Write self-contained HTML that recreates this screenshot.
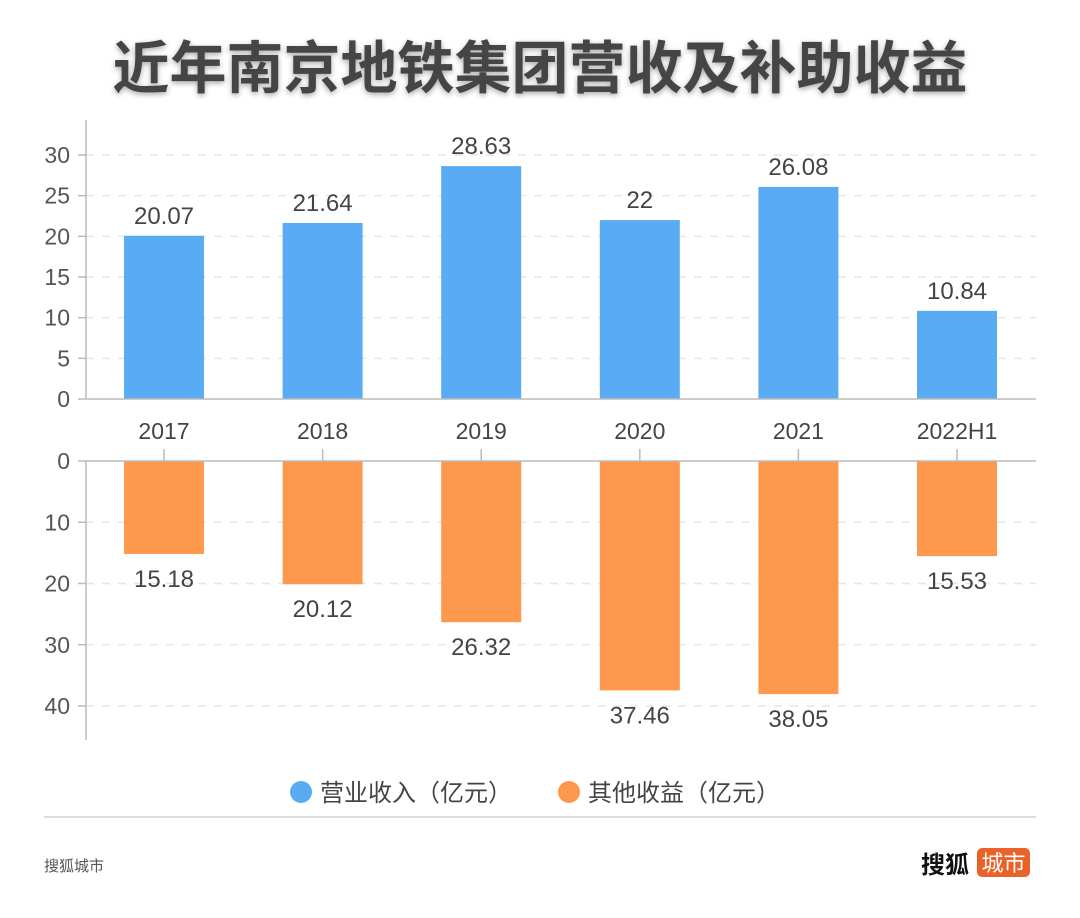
<!DOCTYPE html>
<html><head><meta charset="utf-8"><style>
body{margin:0;background:#fff;}
svg{display:block;font-family:"Liberation Sans","Noto Sans CJK SC",sans-serif;}
</style></head><body>
<svg id="chart" width="1080" height="918" viewBox="0 0 1080 918">
<defs><filter id="sh" x="-5%" y="-20%" width="110%" height="140%"><feGaussianBlur in="SourceAlpha" stdDeviation="3"/><feOffset dx="0" dy="2"/><feComponentTransfer><feFuncA type="linear" slope="0.35"/></feComponentTransfer><feMerge><feMergeNode/><feMergeNode in="SourceGraphic"/></feMerge></filter></defs>
<text x="540" y="88" text-anchor="middle" font-size="57" font-weight="bold" fill="#444" filter="url(#sh)">近年南京地铁集团营收及补助收益</text>
<g id="plot"></g>
<g>
<g><circle cx="301" cy="792" r="11" fill="#59acf3"/><text x="320" y="801" font-size="24" fill="#444">营业收入（亿元）</text></g>
<g><circle cx="569" cy="792" r="11" fill="#fd984c"/><text x="588" y="801" font-size="24" fill="#444">其他收益（亿元）</text></g>
</g>
<line x1="44" y1="817" x2="1036" y2="817" stroke="#ddd" stroke-width="2"/>
<text x="44" y="871" font-size="15" fill="#555">搜狐城市</text>
<g><text x="921" y="873" font-size="24" font-weight="bold" fill="#111">搜狐</text>
<rect x="977" y="848" width="53" height="29" rx="5" fill="#e9622a"/><text x="1003.5" y="871" text-anchor="middle" font-size="22" fill="#fff">城市</text></g>
</svg>
<script>
const categories=["2017","2018","2019","2020","2021","2022H1"];
const revenue=[20.07,21.64,28.63,22,26.08,10.84];
const otherIncome=[15.18,20.12,26.32,37.46,38.05,15.53];
const topTicks=[0,5,10,15,20,25,30];
const bottomTicks=[0,10,20,30,40];
const NS="http://www.w3.org/2000/svg";
const g=document.getElementById('plot');
function el(t,a,txt){const e=document.createElementNS(NS,t);for(const k in a)e.setAttribute(k,a[k]);if(txt!==undefined)e.textContent=txt;g.appendChild(e);return e;}
const x0=86,x1=1036,bw=80;
const xc=i=>164+i*158.6;
const yTop=v=>399-v*(244/30);
const yBot=v=>461+v*(245/40);
topTicks.forEach(t=>{
 if(t>0){const l=el('line',{x1:x0,y1:yTop(t),x2:x1,y2:yTop(t),stroke:'#e6e6e6','stroke-dasharray':'8 8','stroke-width':1.5});
 }
 const k=el('line',{x1:78,y1:yTop(t),x2:x0,y2:yTop(t),stroke:'#bbb','stroke-width':1.5});
 
 const tx=el('text',{x:70,y:yTop(t)+8,'text-anchor':'end','font-size':23,fill:'#555'},t);
 
});
bottomTicks.forEach(t=>{
 if(t>0){const l=el('line',{x1:x0,y1:yBot(t),x2:x1,y2:yBot(t),stroke:'#e6e6e6','stroke-dasharray':'8 8','stroke-width':1.5});
 }
 const k=el('line',{x1:78,y1:yBot(t),x2:x0,y2:yBot(t),stroke:'#bbb','stroke-width':1.5});
 
 const tx=el('text',{x:70,y:yBot(t)+8,'text-anchor':'end','font-size':23,fill:'#555'},t);
 
});
let a=el('line',{x1:x0,y1:120,x2:x0,y2:399,stroke:'#bbb','stroke-width':1.5});

a=el('line',{x1:x0,y1:461,x2:x0,y2:740,stroke:'#bbb','stroke-width':1.5});

categories.forEach((c,i)=>{
 const cx=xc(i);
 const b=el('rect',{x:cx-bw/2,y:yTop(revenue[i]),width:bw,height:yTop(0)-yTop(revenue[i]),fill:'#59acf3'});
 
 const v=el('text',{x:cx,y:yTop(revenue[i])-12,'text-anchor':'middle','font-size':24,fill:'#444'},revenue[i]);
 
 const o=el('rect',{x:cx-bw/2,y:yBot(0),width:bw,height:yBot(otherIncome[i])-yBot(0),fill:'#fd984c'});
 
 const ov=el('text',{x:cx,y:yBot(otherIncome[i])+33,'text-anchor':'middle','font-size':24,fill:'#444'},otherIncome[i]);
 
 const xl=el('text',{x:cx,y:439,'text-anchor':'middle','font-size':23,fill:'#444'},c);
 
 const tk=el('line',{x1:cx,y1:449,x2:cx,y2:461,stroke:'#bbb','stroke-width':1.5});
 
});
a=el('line',{x1:x0,y1:399,x2:x1,y2:399,stroke:'#bbb','stroke-width':1.5});

a=el('line',{x1:x0,y1:461,x2:x1,y2:461,stroke:'#bbb','stroke-width':1.5});

</script>
</body></html>
